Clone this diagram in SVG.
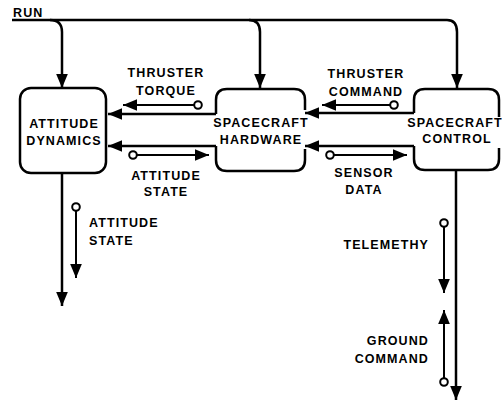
<svg xmlns="http://www.w3.org/2000/svg" width="502" height="407" viewBox="0 0 502 407">
<style>
text{font-family:"Liberation Sans",Arial,sans-serif;font-weight:bold;font-size:12.5px;letter-spacing:1.1px;fill:#000}
.m{text-anchor:middle}
.e{text-anchor:end}
.box{fill:none;stroke:#000;stroke-width:2.5}
.ln{fill:none;stroke:#000;stroke-width:2.5}
.sm{fill:none;stroke:#000;stroke-width:2}
.dot{fill:#fff;stroke:#000;stroke-width:2}
</style>
<defs>
<marker id="ah" markerUnits="userSpaceOnUse" markerWidth="14" markerHeight="12" refX="12" refY="5" orient="auto" viewBox="0 0 12 10">
<path d="M0,0 L12,5 L0,10 Z" fill="#000"/>
</marker>
</defs>
<rect width="502" height="407" fill="#fff"/>
<g id="run">
<text x="13" y="17" letter-spacing="0.5">RUN</text>
</g>
<g id="attitude-dynamics">
<rect class="box" x="20" y="88" width="86" height="85" rx="11"/>
<text class="m" x="64" y="128">ATTITUDE</text>
<text class="m" x="64" y="145">DYNAMICS</text>
</g>
<g id="spacecraft-hardware">
<path class="box" d="M216,114 V100 Q216,89 227,89 H294 Q305,89 305,100 V110"/>
<path class="box" d="M216,146 V160 Q216,171 227,171 H294 Q305,171 305,160 V149"/>
<text class="m" x="261" y="127">SPACECRAFT</text>
<text class="m" x="261" y="144">HARDWARE</text>
</g>
<g id="spacecraft-control">
<path class="box" d="M414,113 V100 Q414,89 425,89 H488 Q499,89 499,100 V117"/>
<path class="box" d="M414,146 V159 Q414,170 425,170 H488 Q499,170 499,159 V148"/>
<text class="m" x="455" y="127" letter-spacing="0.4">SPACECRAFT</text>
<text class="m" x="457" y="143">CONTROL</text>
</g>
<g id="connectors">
<path class="ln" d="M12,20 H447 Q457,20 457,32 V88" marker-end="url(#ah)"/>
<path class="ln" d="M50,20 Q62,20 62,32 V88" marker-end="url(#ah)"/>
<path class="ln" d="M249,20 Q260,20 260,32 V88" marker-end="url(#ah)"/>
<path class="ln" d="M216,114 H108" marker-end="url(#ah)"/>
<path class="ln" d="M216,146 H108" marker-end="url(#ah)"/>
<path class="ln" d="M414,113 H305" marker-end="url(#ah)"/>
<path class="ln" d="M414,146 H305" marker-end="url(#ah)"/>
<path class="ln" d="M62,173 V306" marker-end="url(#ah)"/>
<path class="ln" d="M456,170 V400" marker-end="url(#ah)"/>
<path class="sm" d="M194,105 H123" marker-end="url(#ah)"/>
<circle class="dot" cx="198" cy="105" r="3.8"/>
<path class="sm" d="M137,155 H209" marker-end="url(#ah)"/>
<circle class="dot" cx="133" cy="155" r="3.8"/>
<path class="sm" d="M390,105 H322" marker-end="url(#ah)"/>
<circle class="dot" cx="394" cy="105" r="3.8"/>
<path class="sm" d="M334,155 H407" marker-end="url(#ah)"/>
<circle class="dot" cx="330" cy="155" r="3.8"/>
<path class="sm" d="M76,211 V278" marker-end="url(#ah)"/>
<circle class="dot" cx="76" cy="207" r="3.8"/>
<path class="sm" d="M444,227 V293" marker-end="url(#ah)"/>
<circle class="dot" cx="444" cy="223" r="3.8"/>
<path class="sm" d="M444,378 V310" marker-end="url(#ah)"/>
<circle class="dot" cx="444" cy="382" r="3.8"/>
</g>
<g id="labels">
<text class="m" x="166" y="77">THRUSTER</text>
<text class="m" x="166" y="95">TORQUE</text>
<text class="m" x="166" y="180">ATTITUDE</text>
<text class="m" x="166" y="196">STATE</text>
<text class="m" x="366" y="78">THRUSTER</text>
<text class="m" x="366" y="96">COMMAND</text>
<text class="m" x="364" y="177">SENSOR</text>
<text class="m" x="364" y="194">DATA</text>
<text x="89" y="227">ATTITUDE</text>
<text x="89" y="245">STATE</text>
<text class="e" x="429" y="249">TELEMETHY</text>
<text class="e" x="429" y="345">GROUND</text>
<text class="e" x="429" y="363">COMMAND</text>
</g>
</svg>
